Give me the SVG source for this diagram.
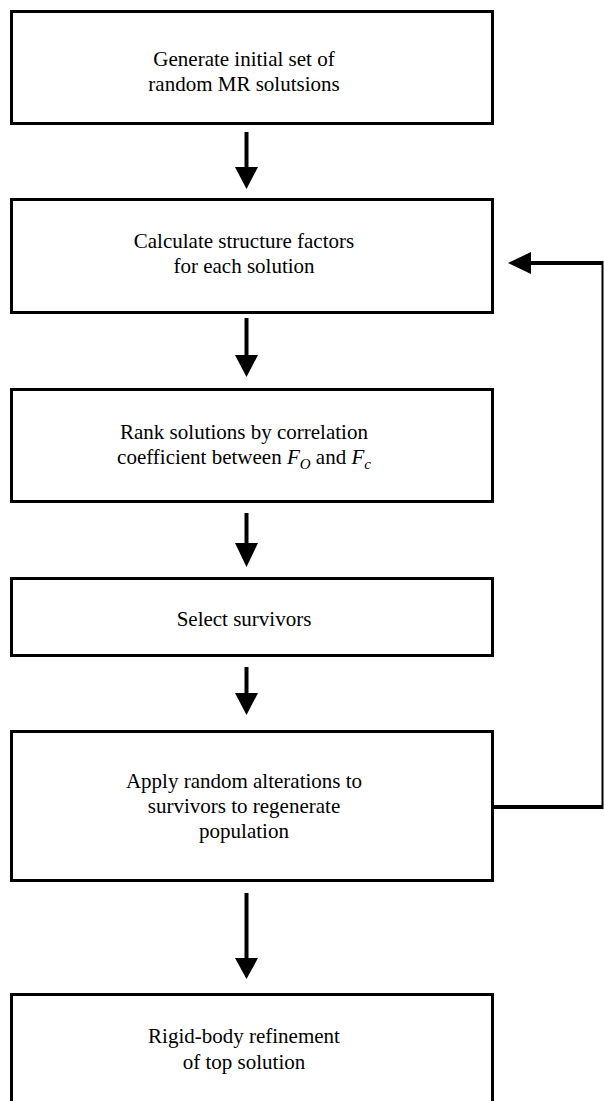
<svg xmlns="http://www.w3.org/2000/svg" width="604" height="1101" viewBox="0 0 604 1101">
<style>
.box{fill:#fff;stroke:#000;stroke-width:3}
.t{font-size:21px;fill:#000;text-anchor:middle}
.shaft{stroke:#000;stroke-width:4;fill:none}
.thin{stroke:#000;stroke-width:2;fill:none}
.head{fill:#000}
</style>
<rect width="604" height="1101" fill="#fff"/>
<g id="connectors">
<line class="shaft" x1="246.5" y1="132" x2="246.5" y2="168"/>
<polygon class="head" points="235,167 258,167 246.5,189"/>
<line class="shaft" x1="246.5" y1="318" x2="246.5" y2="356"/>
<polygon class="head" points="235,355 258,355 246.5,377"/>
<line class="shaft" x1="246.5" y1="513" x2="246.5" y2="544"/>
<polygon class="head" points="235,543 258,543 246.5,567"/>
<line class="shaft" x1="246.5" y1="667" x2="246.5" y2="694"/>
<polygon class="head" points="235,693 258,693 246.5,715"/>
<line class="shaft" x1="246.5" y1="893" x2="246.5" y2="959"/>
<polygon class="head" points="235,958 258,958 246.5,979"/>
<polyline class="shaft" points="494,807 602.5,807"/>
<line class="thin" x1="602.5" y1="261" x2="602.5" y2="809"/>
<line class="shaft" x1="603" y1="263" x2="530" y2="263"/>
<polygon class="head" points="508,263 531,252 531,274"/>
</g>
<g font-family="'Liberation Serif', 'DejaVu Serif', serif">
<g id="n1">
<rect class="box" x="11.5" y="11.5" width="481" height="112"/>
<text class="t" x="244" y="66">Generate initial set of</text>
<text class="t" x="244" y="91">random MR solutsions</text>
</g>
<g id="n2">
<rect class="box" x="11.5" y="199.5" width="481" height="113"/>
<text class="t" x="244" y="248">Calculate structure factors</text>
<text class="t" x="244" y="273">for each solution</text>
</g>
<g id="n3">
<rect class="box" x="11.5" y="389.5" width="481" height="112"/>
<text class="t" x="244" y="439">Rank solutions by correlation</text>
<text class="t" x="244" y="464">coefficient between <tspan font-style="italic">F</tspan><tspan font-style="italic" font-size="15" dy="5">O</tspan><tspan dy="-5"> and </tspan><tspan font-style="italic">F</tspan><tspan font-style="italic" font-size="15" dy="5">c</tspan></text>
</g>
<g id="n4">
<rect class="box" x="11.5" y="578.5" width="481" height="77"/>
<text class="t" x="244" y="626">Select survivors</text>
</g>
<g id="n5">
<rect class="box" x="11.5" y="731.5" width="481" height="149"/>
<text class="t" x="244" y="788">Apply random alterations to</text>
<text class="t" x="244" y="813">survivors to regenerate</text>
<text class="t" x="244" y="838">population</text>
</g>
<g id="n6">
<rect class="box" x="11.5" y="994.5" width="481" height="120"/>
<text class="t" x="244" y="1043">Rigid-body refinement</text>
<text class="t" x="244" y="1069">of top solution</text>
</g>
</g>
</svg>
